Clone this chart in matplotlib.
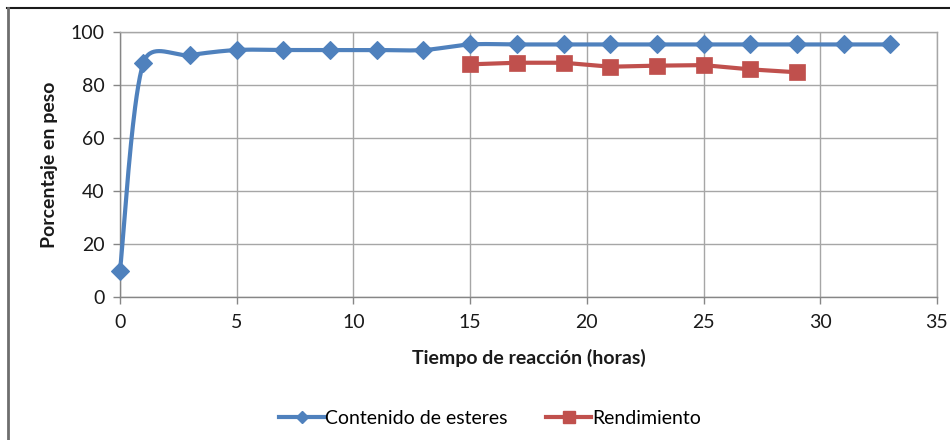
import numpy as np
import matplotlib
matplotlib.use("Agg")
import matplotlib.pyplot as plt
from matplotlib.lines import Line2D

plt.rcParams['font.family'] = ['Lato', 'DejaVu Sans']

# Contenido de esteres (%)
horas_esteres = [0, 1, 3, 5, 7, 9, 11, 13, 15, 17, 19, 21, 23, 25, 27, 29, 31, 33]
esteres = [10, 88.3, 91.3, 93.2, 93.2, 93.2, 93.2, 93.2, 95.3, 95.3, 95.3, 95.3,
           95.3, 95.3, 95.3, 95.3, 95.3, 95.3]

# Rendimiento (%)
horas_rend = [15, 17, 19, 21, 23, 25, 27, 29]
rendimiento = [87.8, 88.4, 88.4, 86.9, 87.3, 87.5, 85.9, 84.8]

x_ticks = [0, 5, 10, 15, 20, 25, 30, 35]
y_ticks = [0, 20, 40, 60, 80, 100]

BLUE = '#4F81BD'
RED = '#C0504D'
GRID = '#A6A6A6'
AXIS = '#868686'
TEXT = '#1a1a1a'
FS = 14

W, H = 950, 440
fig = plt.figure(figsize=(W / 100, H / 100), dpi=100)
ax = fig.add_axes([120 / W, (H - 297) / H, (937 - 120) / W, (297 - 32) / H])
ax.set_xlim(0, 35)
ax.set_ylim(0, 100)
ax.set_xticks(x_ticks)
ax.set_yticks(y_ticks)
ax.grid(True, color=GRID, linewidth=1.0)
ax.set_axisbelow(True)
for side in ('top', 'right'):
    ax.spines[side].set_color(GRID)
    ax.spines[side].set_linewidth(1.0)
for side in ('left', 'bottom'):
    ax.spines[side].set_color(AXIS)
    ax.spines[side].set_linewidth(1.0)
ax.tick_params(axis='both', direction='out', length=5, width=1.0, color=AXIS,
               labelsize=FS, labelcolor=TEXT)
ax.tick_params(axis='x', pad=7)
ax.tick_params(axis='y', pad=6)


def smooth_curve(xs, ys, n=40):
    """Bezier smoothing of a polyline, computed in display space."""
    pts = ax.transData.transform(np.column_stack([xs, ys]))
    out = [pts[0]]
    m = len(pts)
    for i in range(m - 1):
        p0 = pts[max(i - 1, 0)]
        p1 = pts[i]
        p2 = pts[i + 1]
        p3 = pts[min(i + 2, m - 1)]
        seg = np.linalg.norm(p2 - p1)
        t1 = (p2 - p0) / 6.0
        t2 = (p3 - p1) / 6.0
        for t in (t1, t2):
            ln = np.linalg.norm(t)
            if ln > seg / 2 and ln > 0:
                t *= (seg / 2) / ln
        c1 = p1 + t1
        c2 = p2 - t2
        s = np.linspace(0, 1, n)[1:, None]
        curve = ((1 - s) ** 3) * p1 + 3 * ((1 - s) ** 2) * s * c1 \
            + 3 * (1 - s) * s ** 2 * c2 + s ** 3 * p2
        out.extend(curve)
    out = np.array(out)
    data = ax.transData.inverted().transform(out)
    return data[:, 0], data[:, 1]


sx, sy = smooth_curve(horas_esteres, esteres)
ax.plot(sx, sy, color=BLUE, linewidth=3.0, solid_capstyle='round', zorder=3,
        clip_on=False)
ax.plot(horas_esteres, esteres, linestyle='none', marker='D', markersize=8.8,
        markerfacecolor=BLUE, markeredgecolor=BLUE, markeredgewidth=0.8,
        zorder=4, clip_on=False)

ax.plot(horas_rend, rendimiento, color=RED, linewidth=3.0, marker='s',
        markersize=11, markerfacecolor=RED, markeredgecolor=RED,
        markeredgewidth=0.5, zorder=4, clip_on=False)

ax.set_xlabel('Tiempo de reacción (horas)', fontsize=FS, fontweight='bold',
              labelpad=13, color=TEXT)
ax.set_ylabel('Porcentaje en peso', fontsize=FS, fontweight='bold',
              labelpad=9, color=TEXT)

handles = [
    Line2D([], [], color=BLUE, linewidth=3.0, marker='D', markersize=6.5,
           markerfacecolor=BLUE, markeredgecolor=BLUE),
    Line2D([], [], color=RED, linewidth=3.0, marker='s', markersize=9,
           markerfacecolor=RED, markeredgecolor=RED),
]
fig.legend(handles, ['Contenido de esteres', 'Rendimiento'],
           loc='center', bbox_to_anchor=(490 / W, 1 - 418 / H), ncol=2,
           frameon=False, fontsize=FS, handlelength=2.3, handletextpad=0.05,
           columnspacing=2.0)

# chart area frame
fig.add_artist(Line2D([7 / W, 1.0], [1 - 8 / H, 1 - 8 / H], color=TEXT,
                      linewidth=1.5, transform=fig.transFigure))
fig.add_artist(Line2D([7.5 / W, 7.5 / W], [1 - 8 / H, 0.0], color='#6e6e6e',
                      linewidth=2.0, transform=fig.transFigure))

fig.savefig('out.png', dpi=100, facecolor='white')
